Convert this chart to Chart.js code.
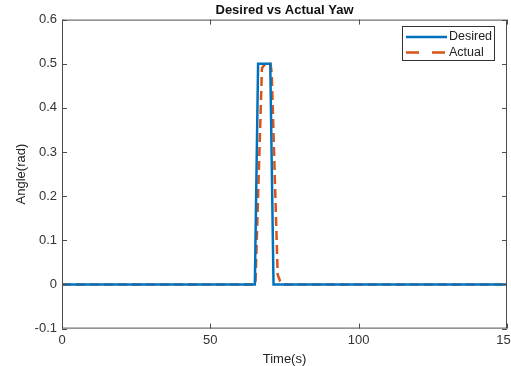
<!DOCTYPE html>
<html>
<head>
<meta charset="utf-8">
<script src="https://cdn.jsdelivr.net/npm/chart.js@4.4.1/dist/chart.umd.min.js"></script>
<style>
  html,body{margin:0;padding:0;background:#fff;}
  #wrap{width:511px;height:366px;}
</style>
</head>
<body>
<div id="wrap"><canvas id="yawChart"></canvas></div>
<script>
// values
const desiredTime = [0, 65.0, 66.1, 70.2, 71.3, 150];
const desiredYaw  = [0, 0,    0.5,  0.5,  0,    0];
const actualTime = [0, 65.2, 67.4, 68.5, 70.3, 70.7, 72.7, 73.5, 74.4, 150];
const actualYaw  = [0, 0,    0.49, 0.5,  0.5,  0.478, 0.022, 0.008, 0, 0];
const xTicks = [0, 50, 100, 150];
const yTicks = [-0.1, 0, 0.1, 0.2, 0.3, 0.4, 0.5, 0.6];

const toPts = (xs, ys) => xs.map((x, i) => ({ x, y: ys[i] }));
const axisCol = '#4d4d4d';
const font = 'Liberation Sans, Arial, sans-serif';

// MATLAB style box, inward ticks and a boxed legend inside the axes
const boxPlugin = {
  id: 'box',
  afterDatasetsDraw(chart){
    const { ctx, chartArea: a, scales } = chart;
    ctx.save();
    ctx.strokeStyle = axisCol;
    ctx.lineWidth = 1;
    ctx.strokeRect(a.left + 0.5, a.top + 0.5, a.right - a.left - 1, a.bottom - a.top - 1);
    ctx.beginPath();
    scales.x.ticks.forEach(t => {
      const px = Math.round(scales.x.getPixelForValue(t.value)) + 0.5;
      ctx.moveTo(px, a.bottom); ctx.lineTo(px, a.bottom - 5);
      ctx.moveTo(px, a.top); ctx.lineTo(px, a.top + 5);
    });
    scales.y.ticks.forEach(t => {
      const py = Math.round(scales.y.getPixelForValue(t.value)) + 0.5;
      ctx.moveTo(a.left, py); ctx.lineTo(a.left + 5, py);
      ctx.moveTo(a.right, py); ctx.lineTo(a.right - 5, py);
    });
    ctx.stroke();

    // legend
    const w = 92, h = 34;
    const lx = Math.round(a.right - 13 - w), ly = Math.round(a.top + 6);
    ctx.fillStyle = '#fff';
    ctx.fillRect(lx, ly, w, h);
    ctx.strokeStyle = '#333';
    ctx.strokeRect(lx + 0.5, ly + 0.5, w, h);
    ctx.font = '12.5px ' + font;
    ctx.textBaseline = 'middle';
    chart.data.datasets.forEach((ds, i) => {
      const yy = ly + 11 + i * 15.5;
      ctx.beginPath();
      ctx.strokeStyle = ds.borderColor;
      ctx.lineWidth = ds.borderWidth;
      ctx.setLineDash(ds.borderDash ? [13, 13] : []);
      ctx.moveTo(lx + 4, yy); ctx.lineTo(lx + 45, yy);
      ctx.stroke();
      ctx.setLineDash([]);
      ctx.fillStyle = '#222';
      ctx.fillText(ds.label, lx + 47, yy);
    });
    ctx.restore();
  }
};

new Chart(document.getElementById('yawChart'), {
  type: 'line',
  data: {
    datasets: [
      { label: 'Desired', data: toPts(desiredTime, desiredYaw), borderColor: '#0072BD', backgroundColor: '#0072BD', borderWidth: 2.5, pointRadius: 0, tension: 0 },
      { label: 'Actual', data: toPts(actualTime, actualYaw), borderColor: '#D95319', backgroundColor: '#D95319', borderWidth: 2.5, borderDash: [9, 5], pointRadius: 0, tension: 0 }
    ]
  },
  options: {
    responsive: true,
    maintainAspectRatio: false,
    animation: false,
    layout: { padding: { left: 6, right: 4, top: 0, bottom: 0 } },
    plugins: {
      title: { display: true, fullSize: false, text: 'Desired vs Actual Yaw', color: '#111', font: { family: font, size: 13, weight: 'bold' }, padding: { top: 3, bottom: 1 } },
      legend: { display: false },
      tooltip: { enabled: false }
    },
    scales: {
      x: {
        type: 'linear', min: 0, max: 150,
        afterBuildTicks: s => { s.ticks = xTicks.map(v => ({ value: v })); },
        afterFit: s => { s.paddingRight = 0; },
        grid: { display: false, drawTicks: false },
        border: { display: false },
        ticks: { color: '#333', font: { family: font, size: 13, lineHeight: 0.8 }, padding: 7, maxRotation: 0 },
        title: { display: true, text: 'Time(s)', color: '#222', font: { family: font, size: 13, lineHeight: 1 }, padding: { top: 0, bottom: 0 } }
      },
      y: {
        min: -0.1, max: 0.6,
        afterBuildTicks: s => { s.ticks = yTicks.map(v => ({ value: v })); },
        grid: { display: false, drawTicks: false },
        border: { display: false },
        ticks: { color: '#333', font: { family: font, size: 13 }, padding: 5, callback: v => String(Math.round(v * 10) / 10) },
        title: { display: true, text: 'Angle(rad)', color: '#222', font: { family: font, size: 13 }, padding: { top: 8, bottom: 0 } }
      }
    }
  },
  plugins: [boxPlugin]
});
</script>
</body>
</html>
